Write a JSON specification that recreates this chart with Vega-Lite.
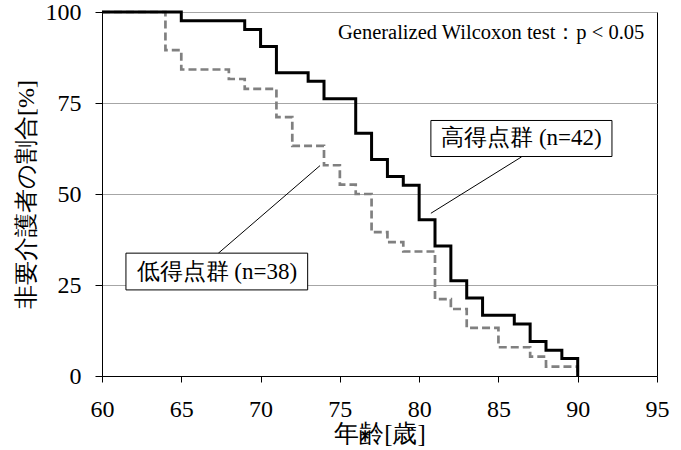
{
  "$schema": "https://vega.github.io/schema/vega-lite/v6.json",
  "width": 555,
  "height": 364,
  "autosize": {"type": "none"},
  "padding": {"left": 102, "top": 12, "right": 24, "bottom": 74},
  "config": {
    "font": "Liberation Serif",
    "view": {"stroke": "black", "strokeWidth": 1},
    "text": {"font": "Liberation Serif"},
    "axis": {
      "domainColor": "black",
      "tickColor": "black",
      "labelColor": "black",
      "titleColor": "black",
      "labelFont": "Liberation Serif",
      "titleFont": "Liberation Serif",
      "titleFontWeight": "normal"
    },
    "axisX": {
      "grid": false, "tickSize": 6, "labelPadding": 15, "labelFontSize": 24,
      "titleFontSize": 25, "titlePadding": 0, "labelFlush": false
    },
    "axisY": {
      "grid": true, "gridColor": "#a6a6a6", "gridWidth": 1,
      "tickSize": 7, "labelPadding": 14, "labelFontSize": 24,
      "titleFontSize": 24, "titlePadding": 7
    }
  },
  "datasets": {
    "high": [
      {"age": 60, "pct": 100}, {"age": 65, "pct": 97.6}, {"age": 69, "pct": 95.2},
      {"age": 70, "pct": 90.5}, {"age": 71, "pct": 83.3}, {"age": 73, "pct": 81.0},
      {"age": 74, "pct": 76.2}, {"age": 76, "pct": 66.7}, {"age": 77, "pct": 59.5},
      {"age": 78, "pct": 54.8}, {"age": 79, "pct": 52.4}, {"age": 80, "pct": 42.9},
      {"age": 81, "pct": 35.7}, {"age": 82, "pct": 26.2}, {"age": 83, "pct": 21.4},
      {"age": 84, "pct": 16.7}, {"age": 86, "pct": 14.3}, {"age": 87, "pct": 9.5},
      {"age": 88, "pct": 7.1}, {"age": 89, "pct": 4.8}, {"age": 90, "pct": 0}
    ],
    "low": [
      {"age": 60, "pct": 100}, {"age": 64, "pct": 89.5}, {"age": 65, "pct": 84.2},
      {"age": 68, "pct": 81.6}, {"age": 69, "pct": 78.9}, {"age": 71, "pct": 71.1},
      {"age": 72, "pct": 63.2}, {"age": 74, "pct": 57.9}, {"age": 75, "pct": 52.6},
      {"age": 76, "pct": 50.0}, {"age": 77, "pct": 39.5}, {"age": 78, "pct": 36.8},
      {"age": 79, "pct": 34.2}, {"age": 81, "pct": 21.1}, {"age": 82, "pct": 18.4},
      {"age": 83, "pct": 13.2}, {"age": 85, "pct": 7.9}, {"age": 87, "pct": 5.3},
      {"age": 88, "pct": 2.6}, {"age": 90, "pct": 0}
    ],
    "leaders": [
      {"x1": 86.46, "y1": 60.2, "x2": 80.74, "y2": 44.7},
      {"x1": 67.33, "y1": 33.7, "x2": 73.75, "y2": 57.8}
    ],
    "boxes": [
      {"x1": 80.74, "x2": 92.16, "y1": 60.3, "y2": 70.2, "cx": 86.45, "cy": 65.25, "label": "高得点群 (n=42)"},
      {"x1": 61.51, "x2": 72.97, "y1": 23.65, "y2": 33.75, "cx": 67.24, "cy": 28.7, "label": "低得点群 (n=38)"}
    ],
    "note": [
      {"x": 94.2, "y": 94.3, "label": "Generalized Wilcoxon test：p < 0.05"}
    ]
  },
  "layer": [
    {
      "data": {"name": "low"},
      "mark": {"type": "line", "interpolate": "step-after", "color": "#808080", "strokeWidth": 2.7, "strokeDash": [8, 4]},
      "encoding": {
        "x": {
          "field": "age", "type": "quantitative",
          "scale": {"domain": [60, 95], "nice": false, "zero": false},
          "axis": {"title": "年齢[歳]", "values": [60, 65, 70, 75, 80, 85, 90, 95]}
        },
        "y": {
          "field": "pct", "type": "quantitative",
          "scale": {"domain": [0, 100], "nice": false},
          "axis": {"title": "非要介護者の割合[%]", "values": [0, 25, 50, 75, 100]}
        }
      }
    },
    {
      "data": {"name": "high"},
      "mark": {"type": "line", "interpolate": "step-after", "color": "black", "strokeWidth": 3},
      "encoding": {
        "x": {"field": "age", "type": "quantitative"},
        "y": {"field": "pct", "type": "quantitative"}
      }
    },
    {
      "data": {"name": "leaders"},
      "mark": {"type": "rule", "color": "black", "strokeWidth": 1},
      "encoding": {
        "x": {"field": "x1", "type": "quantitative"},
        "y": {"field": "y1", "type": "quantitative"},
        "x2": {"field": "x2"},
        "y2": {"field": "y2"}
      }
    },
    {
      "data": {"name": "boxes"},
      "mark": {"type": "rect", "fill": "white", "stroke": "black", "strokeWidth": 1},
      "encoding": {
        "x": {"field": "x1", "type": "quantitative"},
        "x2": {"field": "x2"},
        "y": {"field": "y1", "type": "quantitative"},
        "y2": {"field": "y2"}
      }
    },
    {
      "data": {"name": "boxes"},
      "mark": {"type": "text", "fontSize": 23, "color": "black", "align": "center", "baseline": "middle"},
      "encoding": {
        "x": {"field": "cx", "type": "quantitative"},
        "y": {"field": "cy", "type": "quantitative"},
        "text": {"field": "label"}
      }
    },
    {
      "data": {"name": "note"},
      "mark": {"type": "text", "fontSize": 20.5, "color": "black", "align": "right", "baseline": "middle"},
      "encoding": {
        "x": {"field": "x", "type": "quantitative"},
        "y": {"field": "y", "type": "quantitative"},
        "text": {"field": "label"}
      }
    }
  ]
}
